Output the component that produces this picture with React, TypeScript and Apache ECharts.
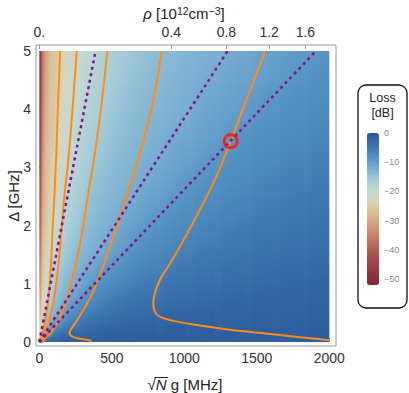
import React, { useEffect, useRef } from 'react';
import * as echarts from 'echarts';

const FONT = '"Liberation Sans", Arial, Helvetica, sans-serif';

// ---- heat-map samples (loss in dB) ----
const X_COLS = [0, 10, 20, 35, 50, 75, 100, 150, 200, 300, 400, 500, 650, 800, 1000, 1200, 1400, 1600, 1800, 2000];
const Y_ROWS = [0, 0.1, 0.25, 0.5, 0.75, 1, 1.5, 2, 2.5, 3, 3.5, 4, 4.5, 5];
const LOSS_Y0_00 = [-15, -8, -4, -2.5, -2, -1.6, -1.4, -1.3, -1.2, -1.15, -1.1, -1.1, -1.05, -1, -1, -1, -1, -1, -1, -1];
const LOSS_Y0_10 = [-20, -16.8, -13.1, -9.3, -7.2, -5, -4, -2.8, -2, -1.7, -1.5, -1.4, -1.35, -1.27, -1.2, -1.15, -1.15, -1.1, -1.1, -1.1];
const LOSS_Y0_25 = [-25, -22.3, -18.2, -14.8, -13.1, -10.6, -8.5, -6.1, -4.8, -3.5, -2.6, -2, -1.8, -1.65, -1.5, -1.44, -1.4, -1.35, -1.3, -1.27];
const LOSS_Y0_50 = [-30, -26.3, -22.3, -19, -16.8, -14.4, -13.1, -10.6, -8.5, -6.1, -4.8, -4, -3.2, -2.6, -2, -1.9, -1.75, -1.65, -1.6, -1.5];
const LOSS_Y0_75 = [-33, -28, -25.3, -21.4, -19.3, -16.8, -15, -13.1, -11.5, -8.5, -6.8, -5.5, -4.5, -3.8, -3.2, -2.6, -2.2, -1.95, -1.9, -1.8];
const LOSS_Y1_00 = [-36, -30.3, -26.3, -23.4, -20.9, -18.6, -16.8, -14.4, -13.1, -10.6, -8.5, -7.2, -5.6, -4.8, -4, -3.5, -3, -2.6, -2.3, -2];
const LOSS_Y1_50 = [-40, -33.6, -28, -25.7, -23.8, -20.9, -19.3, -16.8, -15, -13.1, -11.5, -9.9, -8, -6.8, -5.5, -4.8, -4.3, -3.8, -3.5, -3.2];
const LOSS_Y2_00 = [-44, -36.1, -30.3, -26.8, -25.5, -22.8, -20.9, -18.6, -16.8, -14.4, -13.1, -12, -10.1, -8.5, -7.2, -6.1, -5.3, -4.8, -4.4, -4];
const LOSS_Y2_50 = [-46, -38, -32, -27.6, -26.3, -24.6, -22.3, -19.9, -18.2, -15.7, -14.1, -13.1, -11.7, -10.2, -8.5, -7.4, -6.5, -5.7, -5.2, -4.8];
const LOSS_Y3_00 = [-48, -39.8, -33.6, -29.1, -26.9, -25.5, -23.8, -20.9, -19.3, -16.8, -15, -13.9, -12.7, -11.5, -9.9, -8.5, -7.6, -6.8, -6.1, -5.5];
const LOSS_Y3_50 = [-49, -41.4, -34.9, -30.3, -27.5, -26, -25, -21.8, -20.2, -17.8, -16, -14.7, -13.4, -12.4, -11, -9.7, -8.5, -7.7, -7, -6.4];
const LOSS_Y4_00 = [-50, -42.7, -36.1, -31.3, -28.5, -26.5, -25.5, -22.8, -20.9, -18.6, -16.8, -15.4, -14, -13.1, -12, -10.6, -9.5, -8.5, -7.8, -7.2];
const LOSS_Y4_50 = [-51, -43.9, -37.1, -32.2, -29.4, -26.9, -25.9, -23.8, -21.6, -19.3, -17.6, -16.2, -14.6, -13.6, -12.6, -11.5, -10.4, -9.4, -8.5, -7.9];
const LOSS_Y5_00 = [-52, -45, -38, -33.2, -30.3, -27.3, -26.3, -24.6, -22.3, -19.9, -18.2, -16.8, -15.2, -14.1, -13.1, -12.2, -11.2, -10.2, -9.3, -8.5];
const LOSS_GRID = [LOSS_Y0_00, LOSS_Y0_10, LOSS_Y0_25, LOSS_Y0_50, LOSS_Y0_75, LOSS_Y1_00, LOSS_Y1_50,
  LOSS_Y2_00, LOSS_Y2_50, LOSS_Y3_00, LOSS_Y3_50, LOSS_Y4_00, LOSS_Y4_50, LOSS_Y5_00];

// ---- colour scale ----
const LOSS_MIN = -52;
const LOSS_MAX = 0;
const PALETTE_COLORS = ['#7f2638', '#8f3441', '#a1464b', '#b35c57', '#c37a67', '#d09a7d', '#d9b994',
  '#dbd2b1', '#c6dad2', '#a3cbd9', '#79add1', '#5290c2', '#3a72ae', '#2a5596'];
const CB_LABELS = [0, -10, -20, -30, -40, -50];
const CB_MINOR = [0, -2, -4, -6, -8, -10, -12, -14, -16, -18, -20, -22, -24, -26, -28, -30, -32, -34, -36, -38, -40, -42, -44, -46, -48, -50, -52];

// ---- orange curves [sqrt(N) g (MHz), Delta (GHz)] ----
const ORANGE_A = [[5, 0.0], [12, 0.07], [28, 0.22], [46, 0.45], [65, 0.79], [81, 1.36], [92, 1.94], [104, 2.51], [113, 3.0], [121, 3.5], [128, 4.0], [136, 4.5], [143, 5]];
const ORANGE_B = [[8, 0.0], [22, 0.07], [48, 0.22], [76, 0.45], [105, 0.79], [133, 1.36], [154, 1.94], [173, 2.51], [195, 3.0], [213, 3.5], [229, 4.0], [244, 4.5], [258, 5]];
const ORANGE_C = [[25, 0.0], [35, 0.05], [81, 0.16], [138, 0.39], [196, 0.79], [253, 1.36], [299, 1.94], [334, 2.51], [368, 3.0], [398, 3.5], [425, 4.0], [448, 4.5], [469, 5]];
const ORANGE_D = [[361, 0.02], [276, 0.06], [230, 0.09], [207, 0.16], [219, 0.22], [265, 0.39], [357, 0.79], [449, 1.36], [529, 1.94], [603, 2.51], [665, 3.0], [722, 3.5], [772, 4.0], [812, 4.5], [846, 5]];
const ORANGE_E = [[2000, 0.03], [1800, 0.08], [1545, 0.15], [1315, 0.21], [1085, 0.29], [950, 0.35], [870, 0.4], [820, 0.45], [795, 0.53], [786, 0.66], [795, 0.82], [832, 1.07], [890, 1.3], [970, 1.64], [1060, 2.05], [1154, 2.5], [1240, 2.95], [1320, 3.45], [1450, 4.3], [1557, 5]];
const ORANGE_CURVES = [ORANGE_A, ORANGE_B, ORANGE_C, ORANGE_D, ORANGE_E];

// ---- purple dashed straight lines (from origin to top edge) ----
const PURPLE_1 = [[0, 0], [388, 5]];
const PURPLE_2 = [[0, 0], [1299, 5]];
const PURPLE_3 = [[0, 0], [1908, 5]];
const PURPLE_LINES = [PURPLE_1, PURPLE_2, PURPLE_3];

// ---- marked point ----
const MARK_POINT = [[1320, 3.45]];

// ---- ticks ----
const X_TICKS = [0, 500, 1000, 1500, 2000];
const Y_TICKS = [0, 1, 2, 3, 4, 5];
const RHO_TICK_LABELS = ['0.', '0.4', '0.8', '1.2', '1.6'];
const RHO_TICK_POS = [0, 910, 1290, 1585, 1835];

// axis ranges (frame padding around the data region)
const X_MIN = -22.8;
const X_MAX = 2046;
const Y_MIN = -0.069;
const Y_MAX = 5.103;

function hexToRgb(h: string) {
  const n = parseInt(h.slice(1), 16);
  return [(n >> 16) & 255, (n >> 8) & 255, n & 255];
}
const PALETTE_RGB = PALETTE_COLORS.map(hexToRgb);

function lossColor(v: number) {
  let t = (v - LOSS_MIN) / (LOSS_MAX - LOSS_MIN);
  t = Math.max(0, Math.min(1, t));
  const f = t * (PALETTE_RGB.length - 1);
  const k = Math.min(PALETTE_RGB.length - 2, Math.floor(f));
  const u = f - k;
  const a = PALETTE_RGB[k];
  const b = PALETTE_RGB[k + 1];
  const c = [0, 1, 2].map((q) => Math.round(a[q] + (b[q] - a[q]) * u));
  return `rgb(${c[0]},${c[1]},${c[2]})`;
}

const CELLS: number[][] = [];
for (let j = 0; j < Y_ROWS.length - 1; j++) {
  for (let i = 0; i < X_COLS.length - 1; i++) CELLS.push([i, j]);
}

export default function App() {
  const ref = useRef<HTMLDivElement>(null);
  useEffect(() => {
    if (!ref.current) return;
    const chart = echarts.init(ref.current, undefined, { renderer: 'svg' });
    const tickLabel = { fontSize: 14, color: '#333', fontFamily: FONT };

    const series: any[] = [
      {
        type: 'custom',
        xAxisIndex: 0,
        yAxisIndex: 0,
        silent: true,
        data: CELLS,
        z: 1,
        renderItem: (params: any, api: any) => {
          const i = api.value(0);
          const j = api.value(1);
          const pBL = api.coord([X_COLS[i], Y_ROWS[j]]);
          const pTR = api.coord([X_COLS[i + 1], Y_ROWS[j + 1]]);
          const left = pBL[0];
          const right = pTR[0];
          const bottom = pBL[1];
          const top = pTR[1];
          const w = right - left;
          const n = Math.max(1, Math.round(w / 2));
          const sw = w / n;
          const children: any[] = [];
          for (let k = 0; k < n; k++) {
            const t = (k + 0.5) / n;
            const vb = LOSS_GRID[j][i] + (LOSS_GRID[j][i + 1] - LOSS_GRID[j][i]) * t;
            const vt = LOSS_GRID[j + 1][i] + (LOSS_GRID[j + 1][i + 1] - LOSS_GRID[j + 1][i]) * t;
            children.push({
              type: 'rect',
              silent: true,
              shape: { x: left + k * sw, y: top, width: sw + (k === n - 1 && i === X_COLS.length - 2 ? 0 : 0.7), height: bottom - top + (j === 0 ? 0 : 0.7) },
              style: {
                fill: new echarts.graphic.LinearGradient(0, 0, 0, 1, [
                  { offset: 0, color: lossColor(vt) },
                  { offset: 1, color: lossColor(vb) },
                ]),
              },
            });
          }
          return { type: 'group', children };
        },
      },
    ];

    ORANGE_CURVES.forEach((d) => {
      series.push({
        type: 'line', xAxisIndex: 0, yAxisIndex: 0, data: d, symbol: 'none', smooth: 0.3, silent: true, z: 3,
        lineStyle: { color: '#ff8c1a', width: 2 },
      });
    });
    PURPLE_LINES.forEach((d) => {
      series.push({
        type: 'line', xAxisIndex: 0, yAxisIndex: 0, data: d, symbol: 'none', silent: true, z: 4,
        lineStyle: { color: '#82118a', width: 2.5, type: [3, 3.6] },
      });
    });
    series.push({
      type: 'scatter', xAxisIndex: 0, yAxisIndex: 0, data: MARK_POINT, symbol: 'circle', symbolSize: 13, silent: true, z: 5,
      itemStyle: { color: 'rgba(255,255,255,0)', borderColor: '#ff1010', borderWidth: 3 },
    });

    const option: any = {
      animation: false,
      grid: [
        { left: 36, top: 45, width: 300, height: 301, show: true, borderColor: '#9a9a9a', borderWidth: 1, backgroundColor: 'rgba(0,0,0,0)' },
        { left: 367, top: 133, width: 12, height: 152, show: false },
      ],
      xAxis: [
        {
          gridIndex: 0, type: 'value', min: X_MIN, max: X_MAX, position: 'bottom',
          axisLine: { show: false }, splitLine: { show: false },
          axisTick: { show: true, inside: true, length: 4, lineStyle: { color: '#999' }, customValues: X_TICKS },
          axisLabel: { ...tickLabel, margin: 5, customValues: X_TICKS, formatter: (v: number) => String(v) },
        },
        {
          gridIndex: 0, type: 'value', min: X_MIN, max: X_MAX, position: 'top',
          axisLine: { show: false }, splitLine: { show: false },
          axisTick: { show: true, inside: true, length: 4, lineStyle: { color: '#999' }, customValues: RHO_TICK_POS },
          axisLabel: {
            ...tickLabel, margin: 6, customValues: RHO_TICK_POS,
            formatter: (v: number) => {
              const idx = RHO_TICK_POS.findIndex((p) => Math.abs(p - v) < 1e-6);
              return idx >= 0 ? RHO_TICK_LABELS[idx] : '';
            },
          },
        },
        { gridIndex: 1, type: 'value', min: 0, max: 1, show: false },
      ],
      yAxis: [
        {
          gridIndex: 0, type: 'value', min: Y_MIN, max: Y_MAX,
          axisLine: { show: false }, splitLine: { show: false },
          axisTick: { show: true, inside: true, length: 4, lineStyle: { color: '#999' }, customValues: Y_TICKS },
          axisLabel: { ...tickLabel, margin: 5, customValues: Y_TICKS, formatter: (v: number) => String(v) },
        },
        {
          gridIndex: 1, type: 'value', min: LOSS_MIN, max: LOSS_MAX, position: 'right',
          axisLine: { show: false }, splitLine: { show: false },
          axisTick: { show: true, length: 2, lineStyle: { color: '#c8c8c8' }, customValues: CB_MINOR },
          axisLabel: {
            fontSize: 9, color: '#8a8a8a', fontFamily: FONT, margin: 5, customValues: CB_LABELS,
            formatter: (v: number) => (v === 0 ? '0' : '\u2212' + Math.abs(v)),
          },
        },
      ],
      visualMap: {
        type: 'continuous', min: LOSS_MIN, max: LOSS_MAX, seriesIndex: 0, dimension: 0,
        calculable: false, hoverLink: false, left: 367, top: 133, itemWidth: 12, itemHeight: 152,
        padding: 0, inRange: { color: PALETTE_COLORS }, textStyle: { fontSize: 0 },
      },
      graphic: [
        {
          type: 'rect', z: 0, silent: true,
          shape: { x: 358, y: 85, width: 49, height: 223, r: 8 },
          style: { fill: '#fff', stroke: '#111', lineWidth: 1.3 },
        },
        {
          type: 'text', z: 10, silent: true, x: 382.5, y: 98,
          style: { text: 'Loss', fontSize: 12.5, fontFamily: FONT, fill: '#222', align: 'center', verticalAlign: 'middle', textAlign: 'center', textVerticalAlign: 'middle' },
        },
        {
          type: 'text', z: 10, silent: true, x: 382.5, y: 113,
          style: { text: '[dB]', fontSize: 12.5, fontFamily: FONT, fill: '#222', align: 'center', verticalAlign: 'middle', textAlign: 'center', textVerticalAlign: 'middle' },
        },
        {
          type: 'text', z: 10, silent: true, x: 184, y: 13,
          style: {
            text: '{i|\u03c1} [10{s|12}cm{s|\u22123}]', fontSize: 15, fontFamily: FONT, fill: '#222',
            align: 'center', verticalAlign: 'middle', textAlign: 'center', textVerticalAlign: 'middle',
            rich: {
              i: { fontStyle: 'italic', fontSize: 15, fontFamily: FONT, fill: '#222' },
              s: { fontSize: 10.5, fontFamily: FONT, fill: '#222', verticalAlign: 'top' },
            },
          },
        },
        {
          type: 'text', z: 10, silent: true, x: 13, y: 196, rotation: Math.PI / 2,
          style: { text: '\u0394 [GHz]', fontSize: 15, fontFamily: FONT, fill: '#222', align: 'center', verticalAlign: 'middle', textAlign: 'center', textVerticalAlign: 'middle' },
        },
        {
          type: 'text', z: 10, silent: true, x: 185, y: 384,
          style: {
            text: '\u221a{i|N} g [MHz]', fontSize: 15, fontFamily: FONT, fill: '#222',
            align: 'center', verticalAlign: 'middle', textAlign: 'center', textVerticalAlign: 'middle',
            rich: { i: { fontStyle: 'italic', fontSize: 15, fontFamily: FONT, fill: '#222' } },
          },
        },
        {
          type: 'line', z: 10, silent: true,
          shape: { x1: 154.5, y1: 377.5, x2: 168, y2: 377.5 },
          style: { stroke: '#222', lineWidth: 1 },
        },
      ],
      series,
    };
    chart.setOption(option);
    return () => chart.dispose();
  }, []);
  return <div ref={ref} style={{ position: 'absolute', left: 0, top: 0, width: 409, height: 393 }} />;
}
